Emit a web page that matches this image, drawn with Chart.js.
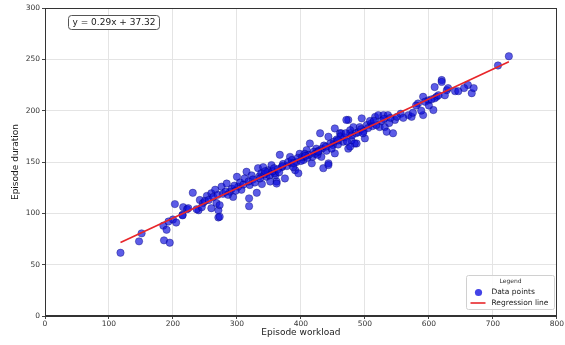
<!DOCTYPE html>
<html>
<head>
<meta charset="utf-8">
<script src="https://cdn.jsdelivr.net/npm/chart.js@4.4.1/dist/chart.umd.min.js"></script>
<style>
  html, body { margin: 0; padding: 0; background: #fff; }
  #wrap { width: 565px; height: 345px; }
</style>
</head>
<body>
<div id="wrap"><canvas id="chart" width="565" height="345"></canvas></div>
<script>
// episode workload (x) and duration (y)
const workload = [
  118, 147, 151, 186, 195, 185, 190, 193, 200, 205, 203, 216, 222, 231, 240, 215, 215, 224, 237, 242,
  247, 253, 260, 260, 268, 271, 271, 266, 276, 284, 289, 294, 300, 302, 307, 315, 320, 319, 319, 331,
  323, 333, 339, 349, 354, 362, 360, 341, 346, 352, 359, 362, 367, 370, 375, 383, 385, 391, 396, 398,
  404, 409, 414, 417, 418, 424, 430, 432, 435, 443, 443, 450, 453, 453, 461, 466, 474, 477, 482, 487,
  463, 474, 477, 479, 484, 492, 495, 500, 503, 510, 516, 521, 523, 529, 531, 536, 534, 544, 547, 568,
  573, 583, 591, 591, 599, 607, 612, 594, 609, 609, 620, 620, 625, 628, 641, 646, 661, 667, 708, 725,
  273, 273, 443, 477, 471,
  245, 250, 256, 263, 270, 278, 282, 286, 292, 296, 298, 305, 310, 312, 318, 325, 328, 335, 338, 343,
  348, 351, 356, 358, 364, 366, 372, 378, 380, 386, 388, 393, 395, 400, 402, 406, 410, 412, 420, 422,
  426, 428, 433, 436, 440, 446, 448, 452, 456, 458, 462, 468, 470, 472, 480, 486, 490, 494, 498, 505,
  508, 512, 518, 526, 530, 538, 540, 550, 556, 560, 575, 580, 588, 600, 604, 615, 630, 655, 670,
  336, 344, 371, 389, 407, 427, 439, 458, 497, 514
];
const duration = [
  61.6, 72.7, 80.5, 73.7, 71.4, 88, 84, 92, 94, 91, 109, 106, 104, 120, 103, 98.6, 98, 105, 104, 113,
  110, 117, 119.5, 105, 110, 103, 96, 123, 126, 129, 121, 116, 135.6, 126, 123, 140.5, 127.6, 114.6, 107, 120,
  137, 144, 128.5, 142, 147, 131, 137, 145, 135.6, 131, 139, 129, 157, 145, 134, 155, 148.7, 142, 139, 158,
  152, 161.6, 168, 148.7, 155, 163, 178, 155, 144, 148.7, 174.6, 166.5, 182.7, 158.4, 178, 169.7, 163, 178, 184, 168,
  178, 191, 181, 171, 168, 184, 192.5, 173, 186, 187.6, 194, 195.7, 184, 195.7, 184, 195.7, 179.5, 178, 191, 195.7,
  194, 207, 213.5, 195.7, 210, 200.6, 213.5, 208.7, 223, 212, 229.8, 228, 215, 220, 219, 219, 225, 217, 244, 253,
  108, 96.7, 147, 165, 191,
  106, 112, 113, 116, 118, 119, 121, 118, 124, 127, 122, 130, 128, 134, 131, 133, 130, 136, 139, 138,
  140, 137, 141, 144, 143, 140, 148, 146, 150, 152, 145, 150, 154, 151, 155, 158, 154, 157, 160, 158,
  157, 161, 163, 166, 161, 168, 163, 170, 172, 167, 175, 174, 178, 170, 176, 178, 179, 182, 180, 183,
  190, 185, 186, 190, 192, 188, 193, 194, 197, 193, 198, 205, 200, 205, 211, 215, 222, 222, 222,
  134, 141, 146, 149, 156, 160, 165, 171, 178, 190
];
// regression line end points
const regX = [118, 725];
const regY = [71.5, 247.6];
const equation = 'y = 0.29x + 37.32';
const xTicks = { min: 0, max: 800, step: 100 };
const yTicks = { min: 0, max: 300, step: 50 };

const points = workload.map((x, i) => ({ x, y: duration[i] }));
const regLine = regX.map((x, i) => ({ x, y: regY[i] }));

const fontFamily = '"DejaVu Sans", sans-serif';

function roundRect(ctx, x, y, w, h, r) {
  ctx.beginPath();
  ctx.moveTo(x + r, y);
  ctx.lineTo(x + w - r, y);
  ctx.quadraticCurveTo(x + w, y, x + w, y + r);
  ctx.lineTo(x + w, y + h - r);
  ctx.quadraticCurveTo(x + w, y + h, x + w - r, y + h);
  ctx.lineTo(x + r, y + h);
  ctx.quadraticCurveTo(x, y + h, x, y + h - r);
  ctx.lineTo(x, y + r);
  ctx.quadraticCurveTo(x, y, x + r, y);
  ctx.closePath();
}

// top/right spines, equation box, legend box
const extras = {
  id: 'extras',
  afterDraw(chart) {
    const ctx = chart.ctx;
    const a = chart.chartArea;
    ctx.save();
    ctx.strokeStyle = '#333';
    ctx.lineWidth = 1;
    ctx.strokeRect(Math.round(a.left) + 0.5, Math.round(a.top) + 0.5,
      Math.round(a.right - a.left) - 1, Math.round(a.bottom - a.top) - 1);

    // equation
    ctx.font = '9px ' + fontFamily;
    const tw = ctx.measureText(equation).width;
    roundRect(ctx, a.left + 23.5, a.top + 7.5, tw + 8, 14, 3);
    ctx.fillStyle = '#fff';
    ctx.fill();
    ctx.strokeStyle = '#555';
    ctx.stroke();
    ctx.fillStyle = '#1a1a1a';
    ctx.textBaseline = 'middle';
    ctx.textAlign = 'left';
    ctx.fillText(equation, a.left + 27.5, a.top + 14.8);

    // legend
    const lx = 466.5, ly = 275.5, lw = 88, lh = 34;
    roundRect(ctx, lx, ly, lw, lh, 2);
    ctx.fillStyle = 'rgba(255,255,255,0.85)';
    ctx.fill();
    ctx.strokeStyle = '#d0d0d0';
    ctx.stroke();
    ctx.fillStyle = '#333';
    ctx.font = '6px ' + fontFamily;
    ctx.textAlign = 'center';
    ctx.fillText('Legend', lx + lw / 2, ly + 5.5);
    ctx.beginPath();
    ctx.arc(lx + 12, ly + 17, 3.6, 0, Math.PI * 2);
    ctx.fillStyle = 'rgba(20,20,225,0.8)';
    ctx.fill();
    ctx.beginPath();
    ctx.moveTo(lx + 4, ly + 27.5);
    ctx.lineTo(lx + 19, ly + 27.5);
    ctx.strokeStyle = '#e8262a';
    ctx.lineWidth = 1.6;
    ctx.stroke();
    ctx.fillStyle = '#1a1a1a';
    ctx.font = '7.5px ' + fontFamily;
    ctx.textAlign = 'left';
    ctx.fillText('Data points', lx + 25, ly + 17);
    ctx.fillText('Regression line', lx + 25, ly + 27.5);
    ctx.restore();
  }
};

new Chart(document.getElementById('chart').getContext('2d'), {
  type: 'scatter',
  data: {
    datasets: [
      {
        type: 'line',
        label: 'Regression line',
        data: regLine,
        borderColor: '#e8262a',
        borderWidth: 1.7,
        pointRadius: 0,
        fill: false
      },
      {
        label: 'Data points',
        data: points,
        backgroundColor: 'rgba(15,15,220,0.68)',
        borderColor: 'rgba(0,0,110,0.6)',
        borderWidth: 0.6,
        pointRadius: 3.7
      }
    ]
  },
  options: {
    responsive: false,
    animation: false,
    layout: { padding: { left: 0, right: 8, top: 8, bottom: 0 } },
    plugins: {
      legend: { display: false },
      tooltip: { enabled: false }
    },
    scales: {
      x: {
        type: 'linear',
        min: xTicks.min,
        max: xTicks.max,
        afterFit(scale) { scale.height = 29; },
        ticks: {
          stepSize: xTicks.step,
          color: '#333',
          font: { family: fontFamily, size: 7.5 },
          padding: 1,
          maxRotation: 0
        },
        grid: { color: '#e4e4e4', tickColor: '#444', tickLength: 3 },
        border: { display: true, color: '#333', width: 1 },
        title: {
          display: true,
          text: 'Episode workload',
          color: '#1a1a1a',
          font: { family: fontFamily, size: 9 },
          padding: { top: 0, bottom: 7 }
        }
      },
      y: {
        type: 'linear',
        min: yTicks.min,
        max: yTicks.max,
        afterFit(scale) { scale.width = 45; },
        ticks: {
          stepSize: yTicks.step,
          color: '#333',
          font: { family: fontFamily, size: 7.5 },
          padding: 2
        },
        grid: { color: '#e4e4e4', tickColor: '#444', tickLength: 3 },
        border: { display: true, color: '#333', width: 1 },
        title: {
          display: true,
          text: 'Episode duration',
          color: '#1a1a1a',
          font: { family: fontFamily, size: 9 },
          padding: { top: 10, bottom: 0 }
        }
      }
    }
  },
  plugins: [extras]
});
</script>
</body>
</html>
